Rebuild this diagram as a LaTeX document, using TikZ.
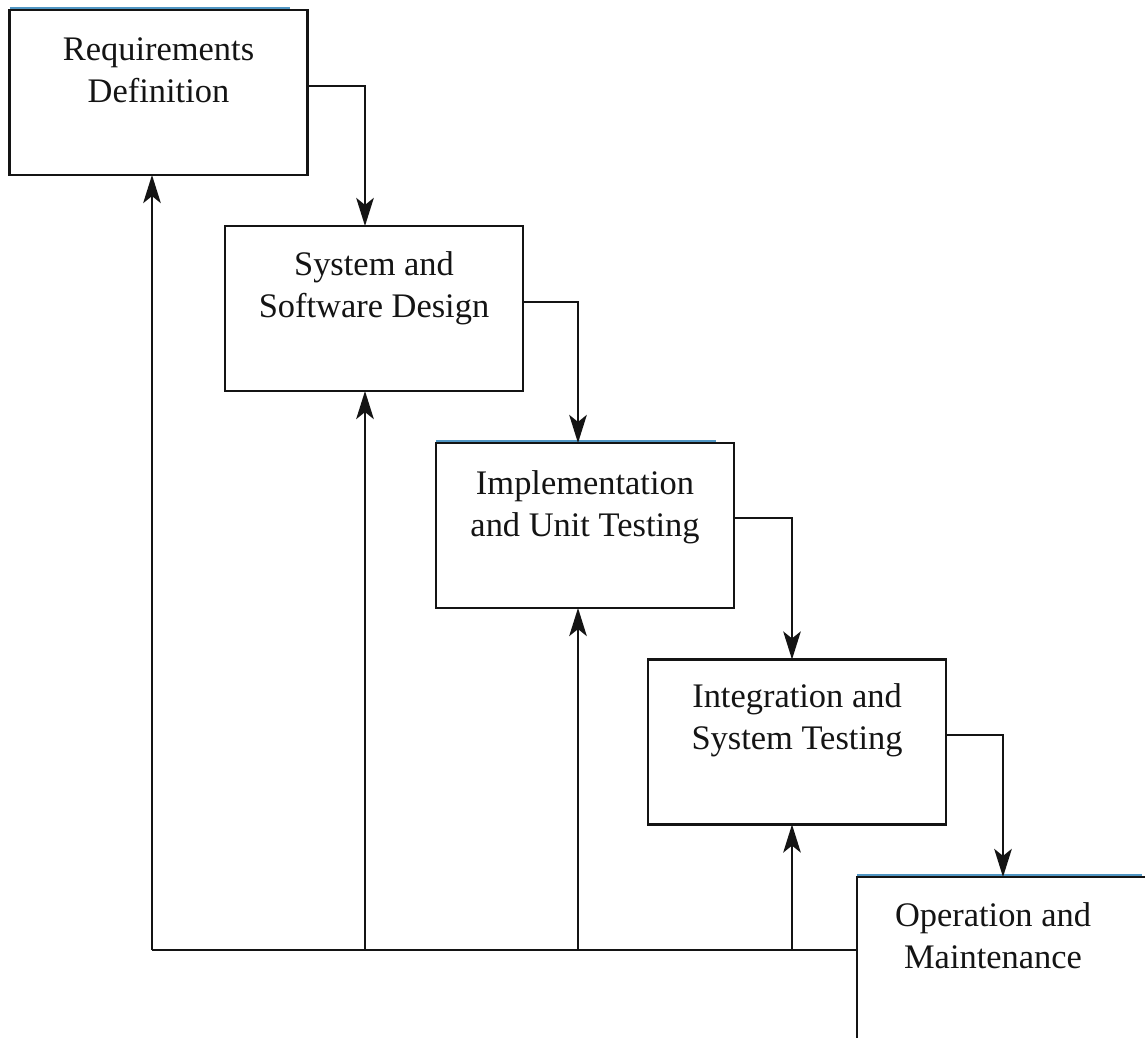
\documentclass[tikz,border=0pt]{standalone}
\usepackage{fontspec}
\setmainfont{Liberation Serif}
\usetikzlibrary{arrows.meta}
\definecolor{ink}{RGB}{20,20,20}
\definecolor{topblue}{RGB}{80,150,195}
\begin{document}
\begin{tikzpicture}[x=0.02cm,y=-0.02cm,
  box/.style={draw=ink, line width=1.25pt, fill=white, minimum width=5.96cm, minimum height=3.3cm, inner sep=0pt, outer sep=0pt},
  lbl/.style={align=center, font=\fontsize{19.6}{23.8}\selectfont, text=ink, inner sep=0pt},
  link/.style={draw=ink, line width=1.2pt},
  arr/.style={link, -{Stealth[length=16pt,width=10pt,inset=4pt]}},
  topline/.style={draw=topblue, line width=1.3pt}]
\useasboundingbox[fill=white] (0,0) rectangle (1145,1037);

% boxes
\node[box] (req) at (158.5,92.5) {};
\node[box] (sys) at (374,308.5) {};
\node[box] (imp) at (585,525.5) {};
\node[box] (int) at (797,742) {};
\node[box, anchor=north west, minimum width=6.6cm, minimum height=4cm] (op) at (857,877) {};

% light blue top edges
\draw[topline] ([yshift=1.1pt]req.north west) -- ++(280,0);
\draw[topline] ([yshift=1.1pt]imp.north west) -- ++(280,0);
\draw[topline] ([yshift=1.1pt]op.north west) -- ++(285,0);

% labels
\node[lbl] (reqT) at ([yshift=-1.2cm]req.north) {Requirements\\Definition};
\node[lbl] (sysT) at ([yshift=-1.24cm]sys.north) {System and\\Software Design};
\node[lbl] (impT) at ([yshift=-1.28cm]imp.north) {Implementation\\and Unit Testing};
\node[lbl] (intT) at ([yshift=-1.21cm]int.north) {Integration and\\System Testing};
\node[lbl] (opT) at (993,936) {Operation and\\Maintenance};

% column coordinates
\coordinate (c1) at (152,950);
\coordinate (c2) at (365,950);
\coordinate (c3) at (578,950);
\coordinate (c4) at (792,950);
\coordinate (c5) at (1003,950);

% forward flow
\draw[arr] (req.east |- 0,86) -| (sys.north -| c2);
\draw[arr] (sys.east |- 0,302) -| (imp.north -| c3);
\draw[arr] (imp.east |- 0,518) -| (int.north -| c4);
\draw[arr] (int.east |- 0,735) -| (op.north -| c5);

% feedback
\draw[link] (op.west |- c1) -- (c1);
\draw[arr] (c1) -- (c1 |- req.south);
\draw[arr] (c2) -- (c2 |- sys.south);
\draw[arr] (c3) -- (c3 |- imp.south);
\draw[arr] (c4) -- (c4 |- int.south);
\end{tikzpicture}
\end{document}
